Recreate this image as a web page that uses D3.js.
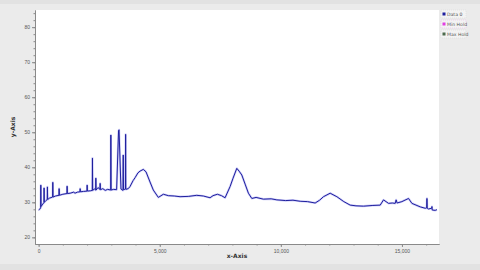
<!DOCTYPE html>
<html>
<head>
<meta charset="utf-8">
<script src="https://cdn.jsdelivr.net/npm/d3@7"></script>
<style>
  body { margin: 0; background: #ebebeb; }
  svg { display: block; font-family: "DejaVu Sans", sans-serif; }
</style>
</head>
<body>
<div id="chart"></div>
<script>
// Data 0 trace (x in samples, y in axis units)
const xValues = [
    0, 40, 83, 90, 100, 170, 219, 225, 235, 300, 355, 362, 372, 450, 578, 585, 595, 700,
    839, 846, 856, 1000, 1169, 1176, 1186, 1300, 1450, 1500, 1600, 1707, 1714, 1724, 1850,
    1996, 2003, 2013, 2150, 2215, 2222, 2232, 2300, 2355, 2362, 2372, 2450, 2533, 2540, 2550,
    2650, 2750, 2850, 2975, 2982, 2992, 3100, 3220, 3300, 3320, 3400, 3483, 3493, 3503,
    3585, 3592, 3600, 3700, 3773, 3900, 3979, 4100, 4186, 4322, 4434, 4599, 4735, 4942,
    5149, 5355, 5600, 5839, 6200, 6529, 6800, 7078, 7200, 7380, 7550, 7698, 7905, 8028,
    8182, 8277, 8388, 8525, 8661, 8801, 8979, 9280, 9600, 9834, 10200, 10500, 10797, 11100,
    11417, 11600, 11760, 12037, 12314, 12600, 12863, 13100, 13412, 13800, 14103, 14239,
    14446, 14600, 14722, 14760, 14800, 14999, 15272, 15412, 15755, 15962, 16020, 16032,
    16045, 16098, 16230, 16239, 16250, 16375, 16445
];
const yValues = [
    27.8, 28.0, 28.4, 34.9, 28.8, 29.5, 29.9, 34.1, 30.0, 30.5, 30.8, 34.4, 30.8, 31.2, 31.5, 35.7, 31.5, 31.8,
    32.0, 33.9, 32.0, 32.3, 32.5, 34.6, 32.5, 32.6, 32.9, 32.6, 32.9, 33.0, 33.9, 33.0, 33.1,
    33.2, 34.9, 33.2, 33.3, 33.4, 42.6, 33.4, 33.8, 33.5, 36.9, 33.5, 34.2, 33.7, 35.4, 33.6,
    33.9, 33.4, 33.7, 33.5, 49.2, 33.5, 33.7, 33.6, 50.4, 50.7, 33.8, 33.4, 43.5, 33.6,
    33.8, 49.4, 33.7, 33.9, 34.5, 36.2, 37.0, 38.4, 38.9, 39.4, 38.7, 35.8, 33.5, 31.4,
    32.3, 31.9, 31.8, 31.6, 31.7, 32.0, 31.8, 31.3, 31.9, 32.3, 31.9, 31.3, 34.5, 36.9,
    39.7, 38.9, 37.8, 35.2, 32.6, 31.1, 31.4, 30.9, 31.0, 30.7, 30.5, 30.6, 30.3, 30.2,
    29.8, 30.6, 31.6, 32.6, 31.6, 30.2, 29.2, 29.0, 28.9, 29.1, 29.2, 30.7,
    29.7, 29.8, 29.7, 30.7, 29.8, 30.2, 31.1, 29.7, 28.7, 28.3, 28.4, 31.1,
    28.3, 28.1, 28.3, 28.8, 27.8, 27.7, 27.9
];

const seriesNames = ["Data 0", "Min Hold", "Max Hold"];
const seriesColors = ["#1f1f9e", "#e23ee2", "#4d6b4d"];

const xDomain = [-150, 16530];
const yDomain = [18.1, 84.9];
const xTicks = [0, 5000, 10000, 15000];
const yTicks = [20, 30, 40, 50, 60, 70, 80];

const W = 480, H = 270;
const margin = {top: 10, right: 41, bottom: 26, left: 35};

const svg = d3.select("#chart").append("svg")
    .attr("width", W)
    .attr("height", H);

// window strips top and bottom
svg.append("rect").attr("x", 0).attr("y", 0).attr("width", W).attr("height", 4).attr("fill", "#e2e2e2");
svg.append("rect").attr("x", 0).attr("y", 264).attr("width", W).attr("height", 6).attr("fill", "#e2e2e2");

const plotW = W - margin.left - margin.right;
const plotH = H - margin.top - margin.bottom;

const x = d3.scaleLinear().domain(xDomain).range([margin.left, margin.left + plotW]);
const y = d3.scaleLinear().domain(yDomain).range([margin.top + plotH, margin.top]);

// plot background
svg.append("rect")
    .attr("x", margin.left)
    .attr("y", margin.top)
    .attr("width", plotW)
    .attr("height", plotH)
    .attr("fill", "white");

// axes
const yAxis = svg.append("g")
    .attr("transform", `translate(${margin.left},0)`)
    .call(d3.axisLeft(y).tickValues(yTicks).tickSize(3).tickPadding(2).tickSizeOuter(0));
const yMinor = svg.append("g")
    .attr("transform", `translate(${margin.left},0)`)
    .call(d3.axisLeft(y).tickValues(d3.range(20, 85, 2)).tickSize(1.5).tickFormat("").tickSizeOuter(0));

const xAxis = svg.append("g")
    .attr("transform", `translate(0,${margin.top + plotH})`)
    .call(d3.axisBottom(x).tickValues(xTicks).tickSize(3).tickPadding(2).tickFormat(d3.format(",")).tickSizeOuter(0));
const xMinor = svg.append("g")
    .attr("transform", `translate(0,${margin.top + plotH})`)
    .call(d3.axisBottom(x).tickValues(d3.range(0, 16500, 1000)).tickSize(1.5).tickFormat("").tickSizeOuter(0));

[yAxis, yMinor, xAxis, xMinor].forEach(g => {
    g.selectAll(".domain").attr("stroke", "#8a8a8a");
    g.selectAll(".tick line").attr("stroke", "#8a8a8a");
    g.selectAll(".tick text").attr("fill", "#555").style("font-size", "5px");
});

// axis titles
svg.append("text")
    .attr("x", 237)
    .attr("y", 258)
    .attr("text-anchor", "middle")
    .attr("font-size", "6px")
    .attr("font-weight", "bold")
    .attr("fill", "#333")
    .text("x-Axis");

svg.append("text")
    .attr("transform", "translate(15,127) rotate(-90)")
    .attr("text-anchor", "middle")
    .attr("font-size", "6px")
    .attr("font-weight", "bold")
    .attr("fill", "#333")
    .text("y-Axis");

// trace
const points = xValues.map((d, i) => [d, yValues[i]]);
const line = d3.line().x(d => x(d[0])).y(d => y(d[1]));

const clip = svg.append("clipPath").attr("id", "clip")
    .append("rect")
    .attr("x", margin.left).attr("y", margin.top)
    .attr("width", plotW).attr("height", plotH);

const traces = svg.append("g").attr("clip-path", "url(#clip)");
traces.append("path")
    .datum(points)
    .attr("d", line)
    .attr("fill", "none")
    .attr("stroke", "#5a5ae8")
    .attr("stroke-opacity", 0.3)
    .attr("stroke-width", 2.2)
    .attr("stroke-linejoin", "round");
traces.append("path")
    .datum(points)
    .attr("d", line)
    .attr("fill", "none")
    .attr("stroke", seriesColors[0])
    .attr("stroke-width", 1)
    .attr("stroke-linejoin", "round");

// legend
const legend = svg.append("g").attr("transform", "translate(441,10)");
const items = legend.selectAll("g")
    .data(seriesNames)
    .enter()
    .append("g")
    .attr("transform", (d, i) => `translate(0,${i * 10})`);

items.append("rect")
    .attr("x", 0).attr("y", 0)
    .attr("width", 25).attr("height", 8)
    .attr("fill", "#f3f3f3")
    .attr("stroke", (d, i) => i === 1 ? "#e8b0e8" : "#d6d6d6")
    .attr("stroke-width", 0.5)
    .attr("stroke-dasharray", "1,1");

items.append("rect")
    .attr("x", 1.5).attr("y", 2.5)
    .attr("width", 3).attr("height", 3)
    .attr("fill", (d, i) => seriesColors[i]);

items.append("text")
    .attr("x", 6)
    .attr("y", 5.8)
    .attr("font-size", "4.6px")
    .attr("fill", "#555")
    .text(d => d);
</script>
</body>
</html>
